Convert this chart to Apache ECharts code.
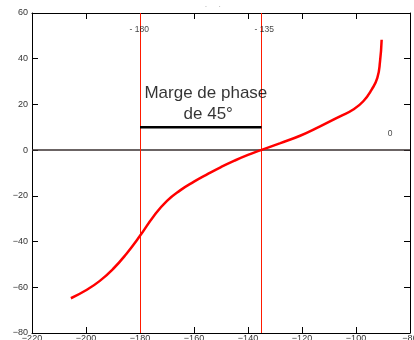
<!DOCTYPE html>
<html>
<head>
<meta charset="utf-8">
<script src="https://cdn.jsdelivr.net/npm/echarts@6/dist/echarts.min.js"></script>
<style>
  html, body { margin: 0; padding: 0; background: #fff; }
  #chart { width: 414px; height: 340px; }
</style>
</head>
<body>
<div id="chart"></div>
<script>
// Nichols locus: phase (deg) vs gain (dB)
const phaseDeg = [-205.6, -200, -195, -190, -185, -180, -175, -170, -165, -160,
                  -155, -150, -145, -140, -135.2, -128.0, -120.7, -113.3, -105.9, -101.0,
                  -97.3, -94.2, -92.1, -91.1, -90.5];
const gainDb   = [-64.8, -61.3, -57.3, -52.0, -45.3, -37.5, -29.0, -22.2, -17.5, -13.8,
                  -10.5, -7.4, -4.6, -2.1, 0.0, 3.1, 6.3, 10.4, 14.8, 17.8,
                  21.4, 26.5, 31.6, 38.8, 48.3];

// Vertical reference phases and their labels
const refPhases = [-180, -135];
const refLabels = ['- 180', '- 135'];

// Phase margin bar
const marginBarPhase = [-180, -135];
const marginBarGain = 10;
const marginText = 'Marge de phase\n de 45°';

const xTicks = { min: -220, max: -80, interval: 20 };
const yTicks = { min: -80, max: 60, interval: 20 };

const minus = v => String(v).replace('-', '\u2212');
const tickFont = { fontSize: 9, color: '#333', fontFamily: 'Liberation Sans, Arial, sans-serif' };

const curve = phaseDeg.map((p, i) => [p, gainDb[i]]);

const chart = echarts.init(document.getElementById('chart'), null, { renderer: 'canvas' });

const axisCommon = {
  type: 'value',
  splitLine: { show: false },
  axisLine: { show: true, onZero: false, lineStyle: { color: '#000', width: 1 } },
  axisTick: { show: true, inside: true, length: 6, lineStyle: { color: '#000', width: 1 } }
};

chart.setOption({
  animation: false,
  backgroundColor: '#fff',
  grid: { left: 32, right: 4, top: 13, bottom: 7, containLabel: false, outerBoundsMode: 'none' },
  xAxis: [
    Object.assign({}, axisCommon, {
      position: 'bottom', min: xTicks.min, max: xTicks.max, interval: xTicks.interval,
      axisLabel: Object.assign({ margin: 1, formatter: minus }, tickFont)
    }),
    Object.assign({}, axisCommon, {
      position: 'top', min: xTicks.min, max: xTicks.max, interval: xTicks.interval,
      axisLabel: { show: false }
    })
  ],
  yAxis: [
    Object.assign({}, axisCommon, {
      position: 'left', min: yTicks.min, max: yTicks.max, interval: yTicks.interval,
      axisLabel: Object.assign({ margin: 4, formatter: minus }, tickFont)
    }),
    Object.assign({}, axisCommon, {
      position: 'right', min: yTicks.min, max: yTicks.max, interval: yTicks.interval,
      axisLabel: { show: false }
    })
  ],
  series: [
    {
      // zero-gain line and reference phase lines
      type: 'line', data: [], silent: true,
      markLine: {
        symbol: 'none', silent: true, animation: false,
        label: { show: false },
        data: [
          { yAxis: 0, lineStyle: { color: '#3a3030', width: 1.5, type: 'solid' } }
        ].concat(refPhases.map(p => ({ xAxis: p, lineStyle: { color: '#ff1a00', width: 1, type: 'solid' } })))
      }
    },
    {
      name: 'locus', type: 'line', data: curve, smooth: 0.5, showSymbol: false,
      lineStyle: { color: '#ff0000', width: 2.5 }, z: 5
    },
    {
      name: 'marge', type: 'line', showSymbol: false,
      data: marginBarPhase.map(p => [p, marginBarGain]),
      lineStyle: { color: '#000', width: 2.5 }, z: 6
    },
    {
      // text annotations placed in data coordinates
      type: 'scatter', symbolSize: 0, z: 7,
      data: [
        { value: [refPhases[0] - 0.3, 52.6], label: { formatter: refLabels[0], fontSize: 8.5 } },
        { value: [refPhases[1] + 1.0, 52.6], label: { formatter: refLabels[1], fontSize: 8.5 } },
        { value: [-87.4, 7], label: { formatter: '0', fontSize: 8.5 } },
        { value: [-155.6, 20.2], label: { formatter: marginText, fontSize: 17, lineHeight: 21, color: '#000', align: 'center' } }
      ],
      label: { show: true, position: 'inside', color: '#111', fontFamily: 'Liberation Sans, Arial, sans-serif' }
    }
  ],
  graphic: [
    { type: 'text', left: 205, top: 6, style: { text: '\u02D9     \u02D9', fontSize: 8, fill: '#555' } }
  ]
});
</script>
</body>
</html>
